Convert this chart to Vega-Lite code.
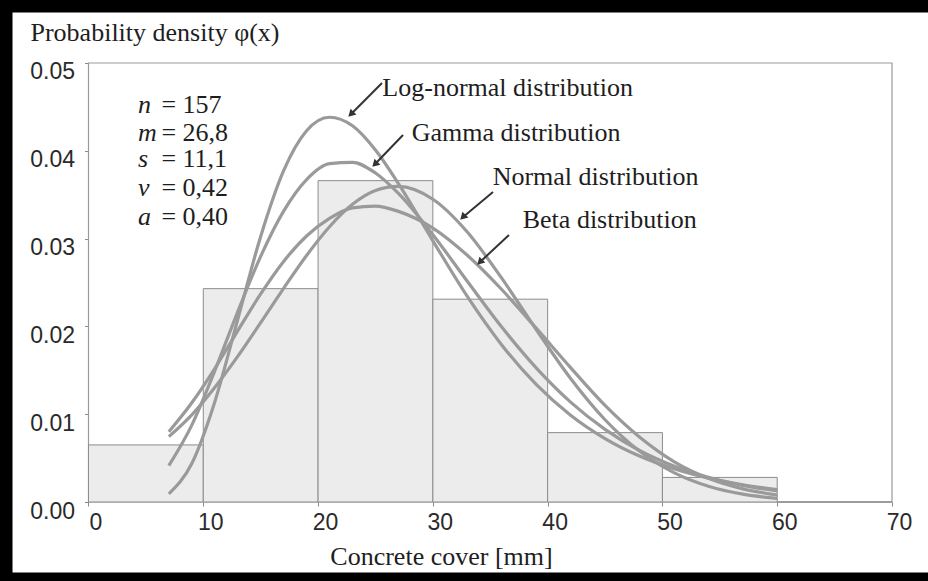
{
  "$schema": "https://vega.github.io/schema/vega-lite/v6.json",
  "width": 941,
  "height": 585,
  "autosize": "none",
  "padding": {"left": 0, "top": 0, "right": -13, "bottom": -4},
  "background": "white",
  "config": {
    "view": {"fill": "white", "stroke": "black", "strokeWidth": 25},
    "axis": {
      "grid": false,
      "domain": false,
      "labelFont": "Liberation Sans",
      "labelFontSize": 23,
      "labelColor": "#2a2a2a",
      "tickColor": "#888888",
      "titleFont": "Liberation Serif",
      "titleFontSize": 26,
      "titleFontWeight": "normal",
      "titleColor": "#1e1e1e"
    }
  },
  "datasets": {
    "bars": [
      {"start": 0, "end": 10, "density": 0.0065},
      {"start": 10, "end": 20, "density": 0.0243},
      {"start": 20, "end": 30, "density": 0.0366},
      {"start": 30, "end": 40, "density": 0.0231},
      {"start": 40, "end": 50, "density": 0.0079},
      {"start": 50, "end": 60, "density": 0.0028},
      {"start": 60, "end": 70, "density": 0}
    ],
    "curves": [
      {"dist": "Normal", "x": 7, "y": 0.00745},
      {"dist": "Normal", "x": 9, "y": 0.00993},
      {"dist": "Normal", "x": 11, "y": 0.01305},
      {"dist": "Normal", "x": 13, "y": 0.01659},
      {"dist": "Normal", "x": 15, "y": 0.02043},
      {"dist": "Normal", "x": 17, "y": 0.02434},
      {"dist": "Normal", "x": 19, "y": 0.02808},
      {"dist": "Normal", "x": 21, "y": 0.03135},
      {"dist": "Normal", "x": 23, "y": 0.0339},
      {"dist": "Normal", "x": 25, "y": 0.03547},
      {"dist": "Normal", "x": 27, "y": 0.03594},
      {"dist": "Normal", "x": 30, "y": 0.03448},
      {"dist": "Normal", "x": 33, "y": 0.03075},
      {"dist": "Normal", "x": 36, "y": 0.02549},
      {"dist": "Normal", "x": 39, "y": 0.01965},
      {"dist": "Normal", "x": 42, "y": 0.01407},
      {"dist": "Normal", "x": 45, "y": 0.00937},
      {"dist": "Normal", "x": 48, "y": 0.0058},
      {"dist": "Normal", "x": 51, "y": 0.00334},
      {"dist": "Normal", "x": 54, "y": 0.00179},
      {"dist": "Normal", "x": 57, "y": 0.00089},
      {"dist": "Normal", "x": 60, "y": 0.00041},
      {"dist": "Log-normal", "x": 7, "y": 0.00093},
      {"dist": "Log-normal", "x": 9, "y": 0.00439},
      {"dist": "Log-normal", "x": 11, "y": 0.0114},
      {"dist": "Log-normal", "x": 13, "y": 0.02079},
      {"dist": "Log-normal", "x": 15, "y": 0.03025},
      {"dist": "Log-normal", "x": 17, "y": 0.03774},
      {"dist": "Log-normal", "x": 19, "y": 0.04229},
      {"dist": "Log-normal", "x": 21, "y": 0.04382},
      {"dist": "Log-normal", "x": 23, "y": 0.04285},
      {"dist": "Log-normal", "x": 25, "y": 0.04009},
      {"dist": "Log-normal", "x": 27, "y": 0.03626},
      {"dist": "Log-normal", "x": 30, "y": 0.02975},
      {"dist": "Log-normal", "x": 33, "y": 0.02341},
      {"dist": "Log-normal", "x": 36, "y": 0.01789},
      {"dist": "Log-normal", "x": 39, "y": 0.01339},
      {"dist": "Log-normal", "x": 42, "y": 0.00988},
      {"dist": "Log-normal", "x": 45, "y": 0.00722},
      {"dist": "Log-normal", "x": 48, "y": 0.00523},
      {"dist": "Log-normal", "x": 51, "y": 0.00378},
      {"dist": "Log-normal", "x": 54, "y": 0.00272},
      {"dist": "Log-normal", "x": 57, "y": 0.00196},
      {"dist": "Log-normal", "x": 60, "y": 0.00141},
      {"dist": "Gamma", "x": 7, "y": 0.00415},
      {"dist": "Gamma", "x": 9, "y": 0.00876},
      {"dist": "Gamma", "x": 11, "y": 0.01494},
      {"dist": "Gamma", "x": 13, "y": 0.02166},
      {"dist": "Gamma", "x": 15, "y": 0.02798},
      {"dist": "Gamma", "x": 17, "y": 0.03313},
      {"dist": "Gamma", "x": 19, "y": 0.03672},
      {"dist": "Gamma", "x": 21, "y": 0.03853},
      {"dist": "Gamma", "x": 23, "y": 0.03869},
      {"dist": "Gamma", "x": 25, "y": 0.03747},
      {"dist": "Gamma", "x": 27, "y": 0.03514},
      {"dist": "Gamma", "x": 30, "y": 0.03044},
      {"dist": "Gamma", "x": 33, "y": 0.02514},
      {"dist": "Gamma", "x": 36, "y": 0.01992},
      {"dist": "Gamma", "x": 39, "y": 0.01528},
      {"dist": "Gamma", "x": 42, "y": 0.01138},
      {"dist": "Gamma", "x": 45, "y": 0.00827},
      {"dist": "Gamma", "x": 48, "y": 0.00587},
      {"dist": "Gamma", "x": 51, "y": 0.0041},
      {"dist": "Gamma", "x": 54, "y": 0.00281},
      {"dist": "Gamma", "x": 57, "y": 0.0019},
      {"dist": "Gamma", "x": 60, "y": 0.00127},
      {"dist": "Beta", "x": 7, "y": 0.008},
      {"dist": "Beta", "x": 9, "y": 0.0113},
      {"dist": "Beta", "x": 11, "y": 0.0152},
      {"dist": "Beta", "x": 13, "y": 0.0195},
      {"dist": "Beta", "x": 15, "y": 0.0237},
      {"dist": "Beta", "x": 17, "y": 0.0274},
      {"dist": "Beta", "x": 19, "y": 0.0303},
      {"dist": "Beta", "x": 21, "y": 0.0323},
      {"dist": "Beta", "x": 23, "y": 0.0335},
      {"dist": "Beta", "x": 25, "y": 0.0337},
      {"dist": "Beta", "x": 27, "y": 0.0331},
      {"dist": "Beta", "x": 30, "y": 0.0312},
      {"dist": "Beta", "x": 33, "y": 0.0281},
      {"dist": "Beta", "x": 36, "y": 0.0242},
      {"dist": "Beta", "x": 39, "y": 0.0198},
      {"dist": "Beta", "x": 42, "y": 0.0153},
      {"dist": "Beta", "x": 45, "y": 0.011},
      {"dist": "Beta", "x": 48, "y": 0.0074},
      {"dist": "Beta", "x": 51, "y": 0.0046},
      {"dist": "Beta", "x": 54, "y": 0.0027},
      {"dist": "Beta", "x": 57, "y": 0.0015},
      {"dist": "Beta", "x": 60, "y": 0.0008}
    ],
    "arrows": [
      {"x1": 25.57, "y1": 0.04772, "x2": 22.86, "y2": 0.04417},
      {"x1": 27.4, "y1": 0.0418, "x2": 24.95, "y2": 0.03847},
      {"x1": 35.24, "y1": 0.03531, "x2": 32.61, "y2": 0.03244},
      {"x1": 36.63, "y1": 0.03041, "x2": 34.09, "y2": 0.02731}
    ],
    "labels": [
      {"label": "Log-normal distribution", "x": 25.6, "y": 0.04715},
      {"label": "Gamma distribution", "x": 28.16, "y": 0.04203},
      {"label": "Normal distribution", "x": 35.21, "y": 0.03705},
      {"label": "Beta distribution", "x": 37.83, "y": 0.03212}
    ],
    "stats": [
      {"sym": "n", "val": "= 157", "y": 0.04527},
      {"sym": "m", "val": "= 26,8", "y": 0.04208},
      {"sym": "s", "val": "= 11,1", "y": 0.03901},
      {"sym": "v", "val": "= 0,42", "y": 0.03576},
      {"sym": "a", "val": "= 0,40", "y": 0.03246}
    ]
  },
  "layer": [
    {
      "data": {"values": [{}]},
      "mark": {"type": "rect", "fill": "transparent", "stroke": "#9a9a9a", "strokeWidth": 1.2},
      "encoding": {
        "x": {
          "datum": 0, "type": "quantitative",
          "scale": {"domain": [-7.71, 74.269], "nice": false, "zero": false},
          "axis": {
            "title": "Concrete cover [mm]", "orient": "bottom", "offset": -83,
            "values": [0, 10, 20, 30, 40, 50, 60, 70], "format": "d",
            "tickSize": 4, "labelPadding": 5, "labelOffset": 7,
            "labelFlush": false, "labelOverlap": false,
            "titleX": 441, "titleY": 62, "titleAlign": "center", "titleBaseline": "alphabetic"
          }
        },
        "x2": {"datum": 70},
        "y": {
          "datum": 0, "type": "quantitative",
          "scale": {"domain": [-0.009453, 0.057175], "nice": false, "zero": false},
          "axis": {
            "title": "Probability density φ(x)", "orient": "left", "offset": -88.5,
            "values": [0, 0.01, 0.02, 0.03, 0.04, 0.05], "format": ".2f",
            "tickSize": 4, "labelPadding": 10, "labelOffset": 9, "labelBaseline": "middle",
            "labelFlush": false, "labelOverlap": false,
            "titleAngle": 0, "titleX": -58.5, "titleY": 40, "titleAlign": "left", "titleBaseline": "alphabetic"
          }
        },
        "y2": {"datum": 0.05}
      }
    },
    {
      "data": {"name": "bars"},
      "mark": {"type": "rect", "fill": "#ececec", "stroke": "#8c8c8c", "strokeWidth": 1},
      "encoding": {
        "x": {"field": "start", "type": "quantitative", "scale": {"domain": [-7.71, 74.269], "nice": false, "zero": false}},
        "x2": {"field": "end"},
        "y": {"field": "density", "type": "quantitative", "scale": {"domain": [-0.009453, 0.057175], "nice": false, "zero": false}},
        "y2": {"datum": 0}
      }
    },
    {
      "data": {"name": "curves"},
      "mark": {"type": "line", "interpolate": "monotone", "stroke": "#9a9a9a", "strokeWidth": 3.2},
      "encoding": {
        "x": {"field": "x", "type": "quantitative", "scale": {"domain": [-7.71, 74.269], "nice": false, "zero": false}},
        "y": {"field": "y", "type": "quantitative", "scale": {"domain": [-0.009453, 0.057175], "nice": false, "zero": false}},
        "detail": {"field": "dist"}
      }
    },
    {
      "data": {"name": "arrows"},
      "mark": {"type": "rule", "stroke": "#333333", "strokeWidth": 2},
      "encoding": {
        "x": {"field": "x1", "type": "quantitative", "scale": {"domain": [-7.71, 74.269], "nice": false, "zero": false}},
        "y": {"field": "y1", "type": "quantitative", "scale": {"domain": [-0.009453, 0.057175], "nice": false, "zero": false}},
        "x2": {"field": "x2"},
        "y2": {"field": "y2"}
      }
    },
    {
      "data": {"name": "arrows"},
      "mark": {"type": "point", "shape": "triangle-up", "angle": 225, "size": 70, "filled": true, "color": "#333333", "opacity": 1},
      "encoding": {
        "x": {"field": "x2", "type": "quantitative", "scale": {"domain": [-7.71, 74.269], "nice": false, "zero": false}},
        "y": {"field": "y2", "type": "quantitative", "scale": {"domain": [-0.009453, 0.057175], "nice": false, "zero": false}}
      }
    },
    {
      "data": {"name": "labels"},
      "mark": {"type": "text", "align": "left", "baseline": "middle", "font": "Liberation Serif", "fontSize": 26, "color": "#1e1e1e"},
      "encoding": {
        "x": {"field": "x", "type": "quantitative", "scale": {"domain": [-7.71, 74.269], "nice": false, "zero": false}},
        "y": {"field": "y", "type": "quantitative", "scale": {"domain": [-0.009453, 0.057175], "nice": false, "zero": false}},
        "text": {"field": "label"}
      }
    },
    {
      "data": {"name": "stats"},
      "mark": {"type": "text", "align": "left", "baseline": "middle", "font": "Liberation Serif", "fontSize": 26, "fontStyle": "italic", "color": "#1e1e1e"},
      "encoding": {
        "x": {"datum": 4.31, "type": "quantitative", "scale": {"domain": [-7.71, 74.269], "nice": false, "zero": false}},
        "y": {"field": "y", "type": "quantitative", "scale": {"domain": [-0.009453, 0.057175], "nice": false, "zero": false}},
        "text": {"field": "sym"}
      }
    },
    {
      "data": {"name": "stats"},
      "mark": {"type": "text", "align": "left", "baseline": "middle", "font": "Liberation Serif", "fontSize": 26, "color": "#1e1e1e"},
      "encoding": {
        "x": {"datum": 6.35, "type": "quantitative", "scale": {"domain": [-7.71, 74.269], "nice": false, "zero": false}},
        "y": {"field": "y", "type": "quantitative", "scale": {"domain": [-0.009453, 0.057175], "nice": false, "zero": false}},
        "text": {"field": "val"}
      }
    }
  ]
}
